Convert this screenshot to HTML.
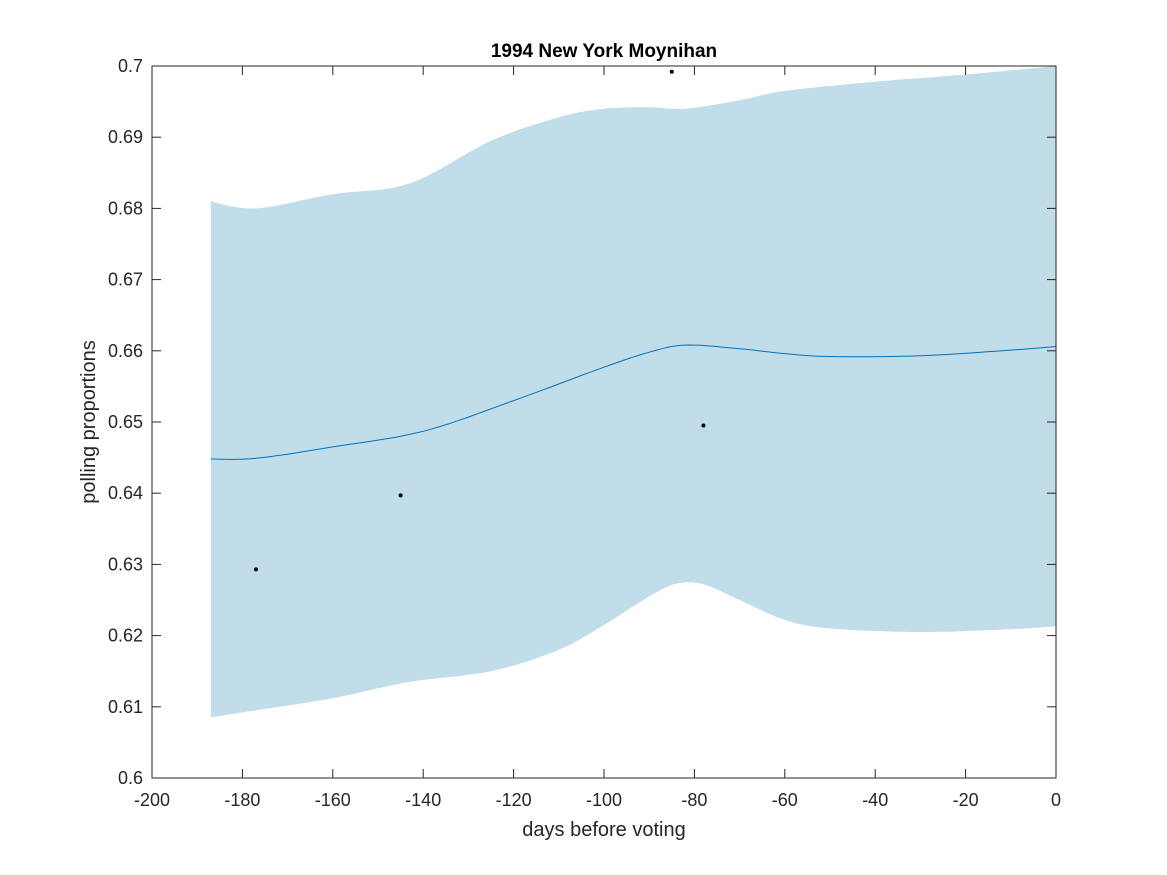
<!DOCTYPE html>
<html><head><meta charset="utf-8"><style>
html,body{margin:0;padding:0;background:#fff;}
svg{display:block;font-family:"Liberation Sans",Arial,sans-serif;}
</style></head><body>
<svg id="chart" width="1167" height="875">
<text x="604" y="57" text-anchor="middle" font-size="19" font-weight="bold" fill="#000">1994 New York Moynihan</text>
<g id="plot"></g>
<text x="604" y="836" text-anchor="middle" font-size="20" fill="#262626">days before voting</text>
<text transform="translate(95,422) rotate(-90)" text-anchor="middle" font-size="20" fill="#262626">polling proportions</text>
</svg>
<script>
const bandX=[-187,-177,-160,-143,-125,-110,-100,-90,-82,-70,-60,-40,-20,0];
const upperY=[0.681,0.680,0.682,0.6835,0.6895,0.6928,0.6940,0.6942,0.6940,0.6952,0.6965,0.6978,0.6988,0.700];
const lowerBX=[-187,-175,-160,-143,-125,-110,-100,-90,-84,-78,-70,-60,-50,-30,-10,0];
const lowerY=[0.6085,0.6097,0.6112,0.6135,0.6150,0.6180,0.6215,0.6255,0.6273,0.6272,0.6250,0.6222,0.6210,0.6205,0.6209,0.6213];
const meanX=[-187,-177,-160,-140,-120,-100,-90,-82,-70,-60,-50,-30,-10,0];
const meanY=[0.6448,0.6449,0.6465,0.6487,0.6530,0.6577,0.6598,0.6608,0.6603,0.6596,0.6592,0.6593,0.6601,0.6606];
const ptX=[-177,-145,-78,-85];
const ptY=[0.6293,0.6397,0.6495,0.6992];
const xTicks=[-200,-180,-160,-140,-120,-100,-80,-60,-40,-20,0];
const yTicks=[0.6,0.61,0.62,0.63,0.64,0.65,0.66,0.67,0.68,0.69,0.7];
const yLabels=["0.6","0.61","0.62","0.63","0.64","0.65","0.66","0.67","0.68","0.69","0.7"];

const L=152,R=1056,T=66,B=778;
const sx=v=>L+(v+200)/200*(R-L);
const sy=v=>B-(v-0.6)/0.1*(B-T);
const NS="http://www.w3.org/2000/svg";
const g=document.getElementById('plot');
function mk(t,a){const e=document.createElementNS(NS,t);for(const k in a)e.setAttribute(k,a[k]);g.appendChild(e);return e;}
function smooth(xs,ys){ // catmull-rom sampled
  const pts=[];
  for(let i=0;i<xs.length-1;i++){
    const p0=[xs[Math.max(i-1,0)],ys[Math.max(i-1,0)]],p1=[xs[i],ys[i]],p2=[xs[i+1],ys[i+1]],p3=[xs[Math.min(i+2,xs.length-1)],ys[Math.min(i+2,xs.length-1)]];
    for(let s=0;s<10;s++){const t=s/10,t2=t*t,t3=t2*t;
      const f=(a,b,c,d)=>0.5*(2*b+(-a+c)*t+(2*a-5*b+4*c-d)*t2+(-a+3*b-3*c+d)*t3);
      pts.push([sx(f(p0[0],p1[0],p2[0],p3[0])),sy(f(p0[1],p1[1],p2[1],p3[1]))]);}
  }
  pts.push([sx(xs[xs.length-1]),sy(ys[ys.length-1])]);
  return pts;
}
const up=smooth(bandX,upperY),lo=smooth(lowerBX,lowerY).reverse();
let band=mk('path',{d:'M'+up.concat(lo).map(p=>p[0].toFixed(1)+','+p[1].toFixed(1)).join('L')+'Z',fill:'#c1ddea'});


let ml=mk('path',{d:'M'+smooth(meanX,meanY).map(p=>p[0].toFixed(1)+','+p[1].toFixed(1)).join('L'),fill:'none',stroke:'#0072bd','stroke-width':1});


ptX.forEach((x,i)=>{const c=mk('circle',{cx:sx(x),cy:sy(ptY[i]),r:2,fill:'#000'});

});
let box=mk('rect',{x:L,y:T,width:R-L,height:B-T,fill:'none',stroke:'#262626','stroke-width':1});


xTicks.forEach(v=>{const x=sx(v);
 mk('line',{x1:x,x2:x,y1:B,y2:B-9,stroke:'#262626'});mk('line',{x1:x,x2:x,y1:T,y2:T+9,stroke:'#262626'});
 const t=mk('text',{x:x,y:B+28,'text-anchor':'middle','font-size':18,fill:'#262626'});t.textContent=v;
 
 });
yTicks.forEach((v,i)=>{const y=sy(v);
 mk('line',{x1:L,x2:L+9,y1:y,y2:y,stroke:'#262626'});mk('line',{x1:R,x2:R-9,y1:y,y2:y,stroke:'#262626'});
 const t=mk('text',{x:L-9,y:y+6,'text-anchor':'end','font-size':18,fill:'#262626'});t.textContent=yLabels[i];
 
 });
</script>
</body></html>
